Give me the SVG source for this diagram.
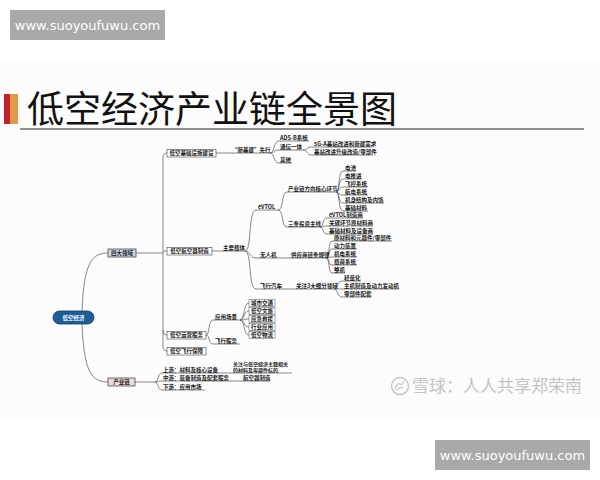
<svg xmlns="http://www.w3.org/2000/svg" width="600" height="480" viewBox="0 0 600 480">
<style>
.t{font-family:"Noto Sans CJK SC","Noto Sans",sans-serif;font-size:5.5px;font-weight:bold;fill:#1a1a1a}
.tc{text-anchor:middle}
.c{fill:none;stroke:#555;stroke-width:0.7}
.b{fill:#fff;stroke:#444;stroke-width:0.6}
.lf{fill:#fff;stroke:#555;stroke-width:0.5}
.wm{fill:#a9a9a9}
.wmt{font-family:"DejaVu Sans",sans-serif;font-size:13px;fill:#fff;text-anchor:middle}
</style>
<rect width="600" height="480" fill="#fff"/>
<rect x="0" y="62" width="600" height="356" fill="#fcfcfc"/>
<g id="watermark-top"><rect class="wm" x="10" y="10" width="155" height="30"/><text class="wmt" x="87.5" y="30">www.suoyoufuwu.com</text></g>
<g id="watermark-bottom"><rect class="wm" x="435" y="440" width="155" height="30"/><text class="wmt" x="512.5" y="460">www.suoyoufuwu.com</text></g>
<g id="title">
<rect x="4" y="94" width="6" height="30" fill="#c8202a"/>
<rect x="10" y="94" width="8" height="30" fill="#e09a4a"/>
<text x="27" y="123" font-family="Noto Sans CJK SC,sans-serif" font-size="37" fill="#111">低空经济产业链全景图</text>
<line x1="20" y1="129" x2="584" y2="129" stroke="#222" stroke-width="1"/>
</g>
<g id="xueqiu">
<circle cx="400" cy="386" r="8.5" fill="none" stroke="#c4c4c4" stroke-width="1.4"/>
<path d="M395 390 Q397 382 400 384 Q402 386 404 381 M397 391 Q400 386 403 388" fill="none" stroke="#c4c4c4" stroke-width="1.2"/>
<text x="412" y="392" font-family="Noto Sans CJK SC,sans-serif" font-size="17" fill="#c4c4c4">雪球：人人共享郑荣南</text>
</g>
<g id="connectors">
<path class="c" d="M82 311 C84 262 92 253 108 253"/>
<path class="c" d="M82 324 C84 373 92 382 108 382"/>
<path class="c" d="M136 253 L163 253"/>
<path class="c" d="M167 153 Q163 153 163 158 L163 346 Q163 351 167 351"/>
<path class="c" d="M163 251 L167 251"/>
<path class="c" d="M163 330 Q163 335 167 335"/>
<path class="c" d="M216 153 L270 153"/>
<path class="c" d="M270 153 C275 153 273 141 279 141 L309 141"/>
<path class="c" d="M270 153 C275 153 273 150 279 150 L303 150"/>
<path class="c" d="M270 153 C275 153 273 163 279 163 L292 163"/>
<path class="c" d="M303 150 C308 150 306 147 312 147 L372 147"/>
<path class="c" d="M303 150 C308 150 306 155 312 155 L372 155"/>
<path class="c" d="M212 251 L245 251"/>
<path class="c" d="M245 251 C252 251 248 210 256 210 L278 210"/>
<path class="c" d="M245 251 C250 251 250 258 256 258 L326 258"/>
<path class="c" d="M245 251 C252 251 248 289 256 289 L334 289"/>
<path class="c" d="M278 210 C284 210 281 192 287 192 L336 192"/>
<path class="c" d="M278 210 C284 210 281 227 287 227 L320 227"/>
<path class="c" d="M336 192 C340 192 338 171 343 171 L356 171"/>
<path class="c" d="M336 192 C340 192 338 179 343 179 L362 179"/>
<path class="c" d="M336 192 C340 192 338 187 343 187 L368 187"/>
<path class="c" d="M336 192 C340 192 338 195 343 195 L368 195"/>
<path class="c" d="M336 192 C340 192 338 203 343 203 L384 203"/>
<path class="c" d="M336 192 C340 192 338 211 343 211 L368 211"/>
<path class="c" d="M320 227 C324 227 322 218 327 218 L363 218"/>
<path class="c" d="M320 227 C324 227 322 226 327 226 L373 226"/>
<path class="c" d="M320 227 C324 227 322 234 327 234 L373 234"/>
<path class="c" d="M326 258 C330 258 328 241 332 241 L392 241"/>
<path class="c" d="M326 258 C330 258 328 249 332 249 L357 249"/>
<path class="c" d="M326 258 C330 258 328 257 332 257 L357 257"/>
<path class="c" d="M326 258 C330 258 328 265 332 265 L357 265"/>
<path class="c" d="M326 258 C330 258 328 273 332 273 L345 273"/>
<path class="c" d="M334 289 C338 289 337 281 342 281 L361 281"/>
<path class="c" d="M334 289 C338 289 337 289 342 289 L399 289"/>
<path class="c" d="M334 289 C338 289 337 297 342 297 L372 297"/>
<path class="c" d="M206 335 C210 335 208 320 213 320 L240 320"/>
<path class="c" d="M206 335 C210 335 208 344 213 344 L240 344"/>
<path class="c" d="M240 320 C245 320 243 303 249 303"/>
<path class="c" d="M240 320 C245 320 243 311 249 311"/>
<path class="c" d="M240 320 C245 320 243 319 249 319"/>
<path class="c" d="M240 320 C245 320 243 327 249 327"/>
<path class="c" d="M240 320 C245 320 243 335 249 335"/>
<path class="c" d="M135 382 L155 382"/>
<path class="c" d="M155 382 C159 382 157 373 162 373 L292 373"/>
<path class="c" d="M155 382 C159 382 157 381 162 381 L270 381"/>
<path class="c" d="M155 382 C159 382 157 390 162 390 L205 390"/>
</g>
<g id="root"><rect x="53" y="311" width="41" height="13" rx="6.5" fill="#1f5d99" stroke="#0d3a66" stroke-width="0.8"/><text class="t tc" x="73.5" y="319.7" style="fill:#fff">低空经济</text></g>
<g id="n-sida"><rect x="108" y="249" width="28" height="8" fill="#cdd7ea" stroke="#333" stroke-width="0.7"/><text class="t tc" x="122" y="255">四大领域</text></g>
<g id="n-chanyelian"><rect x="108" y="378" width="27" height="8" fill="#ecdcdc" stroke="#333" stroke-width="0.7"/><text class="t tc" x="121.5" y="384">产业链</text></g>
<g id="n-jichu"><rect class="b" x="167" y="149.5" width="49" height="7.5"/><text class="t tc" x="191.5" y="155.2">低空基础设施建设</text></g>
<g id="n-hangkongqi"><rect class="b" x="167" y="247.5" width="45" height="7.5"/><text class="t tc" x="189.5" y="253.2">低空航空器制造</text></g>
<g id="n-yunying"><rect class="b" x="167" y="331.5" width="39" height="7.5"/><text class="t tc" x="186.5" y="337.2">低空运营服务</text></g>
<g id="n-baozhang"><rect class="b" x="167" y="347.5" width="39" height="7.5"/><text class="t tc" x="186.5" y="353.2">低空飞行保障</text></g>
<g id="n-xinjijian"><text class="t" x="232" y="151.5">“新基建”先行</text></g>
<g id="n-adsb"><text class="t" x="280" y="139.6">ADS-B系统</text></g>
<g id="n-tongxin"><text class="t" x="280" y="148.5">通信一体</text></g>
<g id="n-qita"><text class="t" x="280" y="161.5">其他</text></g>
<g id="n-5ga"><text class="t" x="314" y="145.5">5G-A基站改进和新建需求</text></g>
<g id="n-jizhan"><text class="t" x="314" y="153.5">基站改进升级改造/零部件</text></g>
<g id="n-zhuyao"><text class="t" x="223" y="249.5">主要载体</text></g>
<g id="n-evtol"><text class="t" x="258" y="208.5">eVTOL</text></g>
<g id="n-wurenji"><text class="t" x="260" y="256.5">无人机</text></g>
<g id="n-feixingqiche"><text class="t" x="260" y="287.5">飞行汽车</text></g>
<g id="n-hexin"><text class="t" x="288" y="190.5">产业链方向核心环节</text></g>
<g id="n-santiao"><text class="t" x="288" y="225.5">三条投资主线</text></g>
<g id="n-dianchi"><text class="t" x="345" y="169.5">电池</text></g>
<g id="n-diantuijin"><text class="t" x="345" y="177.5">电推进</text></g>
<g id="n-feikong"><text class="t" x="345" y="185.5">飞控系统</text></g>
<g id="n-hangdian"><text class="t" x="345" y="193.5">航电系统</text></g>
<g id="n-jishen"><text class="t" x="345" y="201.5">机身结构及内饰</text></g>
<g id="n-jichucailiao"><text class="t" x="345" y="209.5">基础材料</text></g>
<g id="n-evtolzz"><text class="t" x="329" y="216.5">eVTOL制造商</text></g>
<g id="n-guanjian"><text class="t" x="329" y="224.5">关键环节原材料商</text></g>
<g id="n-shebei"><text class="t" x="329" y="232.5">基础材料及设备商</text></g>
<g id="n-gongying"><text class="t" x="291" y="256.5">供应商链条规律</text></g>
<g id="n-yuancailiao"><text class="t" x="334" y="239.5">原材料和元器件/零部件</text></g>
<g id="n-dongli"><text class="t" x="334" y="247.5">动力装置</text></g>
<g id="n-jidian"><text class="t" x="334" y="255.5">机电系统</text></g>
<g id="n-zaihe"><text class="t" x="334" y="263.5">载荷系统</text></g>
<g id="n-zhengji"><text class="t" x="334" y="271.5">整机</text></g>
<g id="n-guanzhu3"><text class="t" x="296" y="287.5">关注3大细分领域</text></g>
<g id="n-qingliang"><text class="t" x="344" y="279.5">轻量化</text></g>
<g id="n-zhuji"><text class="t" x="344" y="287.5">主机制造及动力发动机</text></g>
<g id="n-lingbujian"><text class="t" x="344" y="295.5">零部件配套</text></g>
<g id="n-yingyong"><text class="t" x="215" y="318.5">应用场景</text></g>
<g id="n-feixingfuwu"><text class="t" x="215" y="342.5">飞行服务</text></g>
<g id="n-chengshi"><rect class="lf" x="249" y="299.3" width="26" height="7.4"/><text class="t" x="251" y="305">城市交通</text></g>
<g id="n-wenlv"><rect class="lf" x="249" y="307.3" width="26" height="7.4"/><text class="t" x="251" y="313">低空文旅</text></g>
<g id="n-jiuyuan"><rect class="lf" x="249" y="315.3" width="26" height="7.4"/><text class="t" x="251" y="321">应急救援</text></g>
<g id="n-hangye"><rect class="lf" x="249" y="323.3" width="26" height="7.4"/><text class="t" x="251" y="329">行业应用</text></g>
<g id="n-wuliu"><rect class="lf" x="249" y="331.3" width="26" height="7.4"/><text class="t" x="251" y="337">低空物流</text></g>
<g id="n-shangyou"><text class="t" x="163" y="371.5">上游：材料及核心设备</text></g>
<g id="n-zhongyou"><text class="t" x="163" y="379.5">中游：装备制造及配套服务</text></g>
<g id="n-xiayou"><text class="t" x="163" y="388.5">下游：应用市场</text></g>
<g id="n-guanzhu"><text class="t" x="233" y="366" style="font-size:5px">关注与低空经济主题相关</text><text class="t" x="233" y="371.8" style="font-size:5px">的材料及零部件标的</text></g>
<g id="n-hkqzz"><text class="t" x="243" y="379.5">航空器制造</text></g>
</svg>
